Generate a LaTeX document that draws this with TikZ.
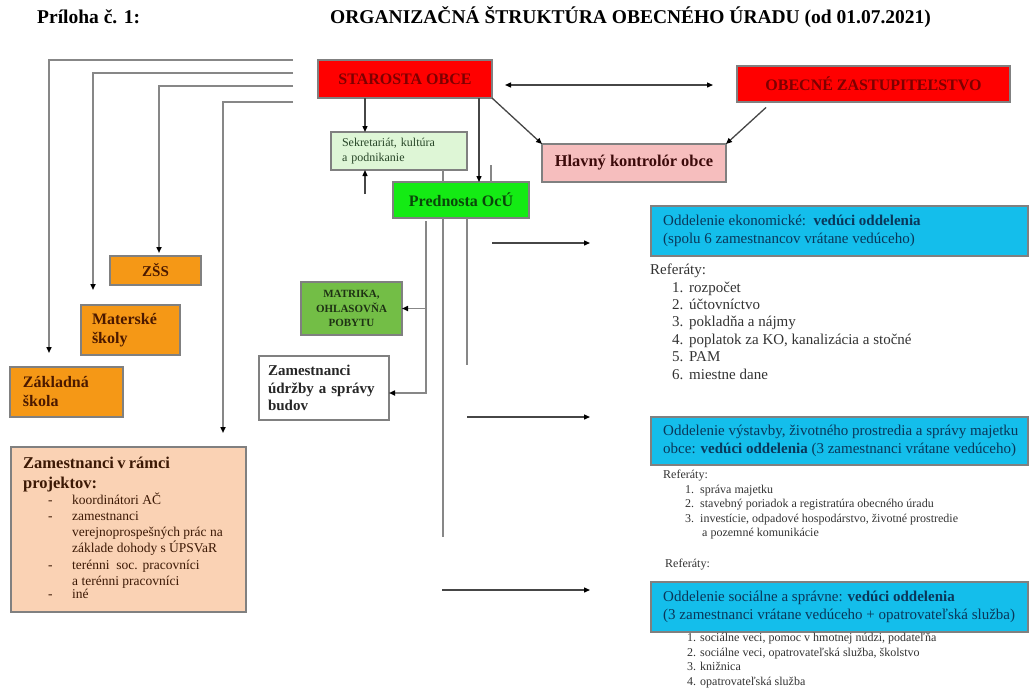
\documentclass[tikz,border=0pt]{standalone}
\usepackage{fontspec}
\setmainfont{Liberation Serif}
\usetikzlibrary{arrows.meta,calc}
\definecolor{boxgray}{RGB}{128,128,128}
\definecolor{lngray}{RGB}{135,135,135}
\definecolor{arrgray}{RGB}{70,70,70}
\definecolor{cred}{RGB}{255,0,0}
\definecolor{credtxt}{RGB}{125,0,0}
\definecolor{cgreen}{RGB}{20,235,20}
\definecolor{cgreentxt}{RGB}{10,70,10}
\definecolor{csekr}{RGB}{222,246,214}
\definecolor{csekrtxt}{RGB}{40,70,40}
\definecolor{cmatr}{RGB}{115,190,70}
\definecolor{cmatrtxt}{RGB}{30,50,20}
\definecolor{cpink}{RGB}{246,190,190}
\definecolor{cpinktxt}{RGB}{60,10,10}
\definecolor{corange}{RGB}{245,152,22}
\definecolor{corangetxt}{RGB}{75,25,0}
\definecolor{cpeach}{RGB}{250,210,180}
\definecolor{cpeachtxt}{RGB}{60,25,5}
\definecolor{ccyan}{RGB}{20,190,235}
\definecolor{ccyantxt}{RGB}{10,55,90}
\definecolor{listtxt}{RGB}{50,50,50}
\begin{document}
\begin{tikzpicture}[x=1pt,y=-1pt,
  box/.style={draw=boxgray, line width=1.2pt, anchor=north west, inner sep=0pt, outer sep=0pt},
  ln/.style={draw=lngray, line width=1.6pt},
  arr/.style={draw=arrgray, line width=1.3pt, -{Triangle[length=6pt,width=5pt,color=black]}},
  darr/.style={draw=arrgray, line width=1.3pt, {Triangle[length=6pt,width=5pt,color=black]}-{Triangle[length=6pt,width=5pt,color=black]}},
  bold16/.style={font=\fontsize{16}{18}\selectfont\bfseries},
  title/.style={font=\fontsize{19.5}{22}\selectfont\bfseries, anchor=west, inner sep=0pt},
  bluetxt/.style={font=\fontsize{15}{18}\selectfont, text=ccyantxt, align=left, anchor=west, inner sep=0pt},
]
\useasboundingbox (0,0) rectangle (1034,697);

% titles
\node[title] (t1) at (37,17) {Príloha č. 1:};
\node[title] (t2) at (330,17) {ORGANIZAČNÁ ŠTRUKTÚRA OBECNÉHO ÚRADU (od 01.07.2021)};

% top boxes
\node[box, fill=cred, minimum width=174pt, minimum height=38pt, bold16, text=credtxt] (starosta) at (318,60) {STAROSTA OBCE};
\node[box, fill=cred, minimum width=273pt, minimum height=36pt, bold16, text=credtxt] (zast) at (737,66) {OBECNÉ ZASTUPITEĽSTVO};
\node[box, fill=cpink, minimum width=184pt, minimum height=38pt, font=\fontsize{16.4}{19}\selectfont\bfseries, text=cpinktxt] (hlavny) at (542,144) {Hlavný kontrolór obce};
\node[box, fill=csekr, minimum width=136pt, minimum height=38pt, text width=114pt, inner xsep=11pt, align=left, font=\fontsize{12}{15}\selectfont, text=csekrtxt] (sekr) at (331,132) {Sekretariát, kultúra\\a podnikanie};
\node[box, fill=cgreen, minimum width=136pt, minimum height=36pt, bold16, text=cgreentxt] (prednosta) at (393,182) {Prednosta OcÚ};

% left boxes
\node[box, fill=corange, minimum width=91pt, minimum height=29pt, font=\fontsize{15}{18}\selectfont\bfseries, text=corangetxt] (zss) at (110,256) {ZŠS};
\node[box, fill=corange, minimum width=99pt, minimum height=50pt, text width=77pt, inner xsep=11pt, align=left, font=\fontsize{16}{18.5}\selectfont\bfseries, text=corangetxt] (materske) at (81,305) {Materské\\školy};
\node[box, fill=corange, minimum width=113pt, minimum height=50pt, text width=87pt, inner xsep=13pt, align=left, font=\fontsize{16}{19}\selectfont\bfseries, text=corangetxt] (zakladna) at (10,367) {Základná\\škola};
\node[box, fill=cmatr, minimum width=101pt, minimum height=53pt, align=center, font=\fontsize{11}{14.5}\selectfont\bfseries, text=cmatrtxt] (matrika) at (301,282) {MATRIKA,\\OHLASOVŇA\\POBYTU};
\node[box, fill=white, minimum width=130pt, minimum height=64pt, text width=112pt, inner xsep=9pt, align=left, font=\fontsize{15}{17.5}\selectfont\bfseries, text=black!85] (udrzby) at (259,356) {Zamestnanci\\údržby a správy\\budov};
\node[box, fill=cpeach, minimum width=235pt, minimum height=165pt] (projektov) at (11,447) {};
\node[anchor=north west, inner sep=0pt, text width=220pt, align=left, text=cpeachtxt] (projtxt) at (23,457) {%
\fontsize{16.5}{19.5}\selectfont\bfseries Zamestnanci v rámci\\projektov:\par
\fontsize{13.5}{16.2}\selectfont\mdseries
\hspace*{25pt}\makebox[24pt][l]{-}koordinátori AČ\\
\hspace*{25pt}\makebox[24pt][l]{-}zamestnanci\\
\hspace*{49pt}verejnoprospešných prác na\\
\hspace*{49pt}základe dohody s ÚPSVaR\\
\hspace*{25pt}\makebox[24pt][l]{-}terénni\ \ soc. pracovníci\\
\hspace*{49pt}a terénni pracovníci\\
\hspace*{25pt}\makebox[24pt][l]{-}iné};

% right blue boxes
\node[box, fill=ccyan, minimum width=377pt, minimum height=50pt] (blue1) at (651,206) {};
\node[bluetxt] (b1txt) at ([xshift=12pt]blue1.west) {Oddelenie ekonomické:\ \ \textbf{vedúci oddelenia}\\(spolu 6 zamestnancov vrátane vedúceho)};
\node[box, fill=ccyan, minimum width=377pt, minimum height=48pt] (blue2) at (651,417) {};
\node[bluetxt] (b2txt) at ([xshift=12pt]blue2.west) {Oddelenie výstavby, životného prostredia a správy majetku\\obce: \textbf{vedúci oddelenia} (3 zamestnanci vrátane vedúceho)};
\node[box, fill=ccyan, minimum width=377pt, minimum height=50pt] (blue3) at (651,582) {};
\node[bluetxt] (b3txt) at ([xshift=12pt]blue3.west) {Oddelenie sociálne a správne: \textbf{vedúci oddelenia}\\(3 zamestnanci vrátane vedúceho + opatrovateľská služba)};

% lists
\node[anchor=north west, inner sep=0pt, align=left, text=listtxt, font=\fontsize{15}{17.4}\selectfont] (list1) at (650,264) {Referáty:\\
\hspace*{22pt}\makebox[17pt][l]{1.}rozpočet\\
\hspace*{22pt}\makebox[17pt][l]{2.}účtovníctvo\\
\hspace*{22pt}\makebox[17pt][l]{3.}pokladňa a nájmy\\
\hspace*{22pt}\makebox[17pt][l]{4.}poplatok za KO, kanalizácia a stočné\\
\hspace*{22pt}\makebox[17pt][l]{5.}PAM\\
\hspace*{22pt}\makebox[17pt][l]{6.}miestne dane};
\node[anchor=north west, inner sep=0pt, align=left, text=listtxt, font=\fontsize{12}{14.5}\selectfont] (list2) at (663,470) {Referáty:\\
\hspace*{22pt}\makebox[15pt][l]{1.}správa majetku\\
\hspace*{22pt}\makebox[15pt][l]{2.}stavebný poriadok a registratúra obecného úradu\\
\hspace*{22pt}\makebox[15pt][l]{3.}investície, odpadové hospodárstvo, životné prostredie\\
\hspace*{39pt}a pozemné komunikácie};
\node[anchor=west, inner sep=0pt, text=listtxt, font=\fontsize{12}{14.5}\selectfont] (ref3) at (665,565) {Referáty:};
\node[anchor=north west, inner sep=0pt, align=left, text=listtxt, font=\fontsize{12}{14.5}\selectfont] (list3) at (687,633) {%
\makebox[13pt][l]{1.}sociálne veci, pomoc v hmotnej núdzi, podateľňa\\
\makebox[13pt][l]{2.}sociálne veci, opatrovateľská služba, školstvo\\
\makebox[13pt][l]{3.}knižnica\\
\makebox[13pt][l]{4.}opatrovateľská služba};

% left connectors from starosta
\coordinate (l1) at (293,60);
\coordinate (l2) at (293,73);
\coordinate (l3) at (293,86);
\coordinate (l4) at (293,102);
\draw[ln, -{Triangle[length=6pt,width=5pt,color=black]}, shorten >=14pt] (l1) -| ([xshift=39pt]zakladna.north west);
\draw[ln, -{Triangle[length=6pt,width=5pt,color=black]}, shorten >=15pt] (l2) -| ([xshift=12pt]materske.north west);
\draw[ln, -{Triangle[length=6pt,width=5pt,color=black]}, shorten >=3pt] (l3) -| ([xshift=49pt]zss.north west);
\draw[ln, -{Triangle[length=6pt,width=5pt,color=black]}, shorten >=14pt] (l4) -| ([xshift=212pt]projektov.north west);

% starosta connectors
\draw[darr, shorten <=13pt, shorten >=24pt] (starosta.east |- 0,85) -- (zast.west |- 0,85);
\draw[arr] ([xshift=47pt]starosta.south west) -- ([xshift=34pt]sekr.north west);
\coordinate (s1) at (365,194);
\draw[arr] (s1) -- ([xshift=34pt]sekr.south west);
\draw[arr] ([xshift=161pt]starosta.south west) -- ([xshift=86pt]prednosta.north west);
\draw[arr] (starosta.south east) -- (hlavny.north west);
\draw[arr, shorten <=8pt] ([xshift=35pt]zast.south west) -- (hlavny.north east);

% stubs above prednosta
\draw[ln, line width=1.2pt] ([xshift=50pt]prednosta.north west) -- ++(0,-12);
\draw[ln, line width=1.2pt] ([xshift=98pt]prednosta.north west) -- ++(0,-17);

% below prednosta
\draw[ln, -{Triangle[length=6pt,width=5pt,color=black]}, shorten <=3pt] ([xshift=33pt]prednosta.south west) |- ([yshift=-5pt]udrzby.east);
\draw[ln, -{Triangle[length=6pt,width=5pt,color=black]}] ([xshift=33pt]prednosta.south west |- matrika.east) -- (matrika.east);
\draw[ln] ([xshift=50pt]prednosta.south west) -- ++(0,319);
\draw[ln] ([xshift=74pt]prednosta.south west) -- ++(0,147);

% arrows to departments
\coordinate (r1) at (492,243);
\coordinate (r2) at (467,417);
\coordinate (r3) at (442,590);
\draw[arr] (r1) -- ([xshift=-61pt]blue1.west |- r1);
\draw[arr] (r2) -- ([xshift=-61pt]blue2.west |- r2);
\draw[arr] (r3) -- ([xshift=-61pt]blue3.west |- r3);
\end{tikzpicture}
\end{document}
